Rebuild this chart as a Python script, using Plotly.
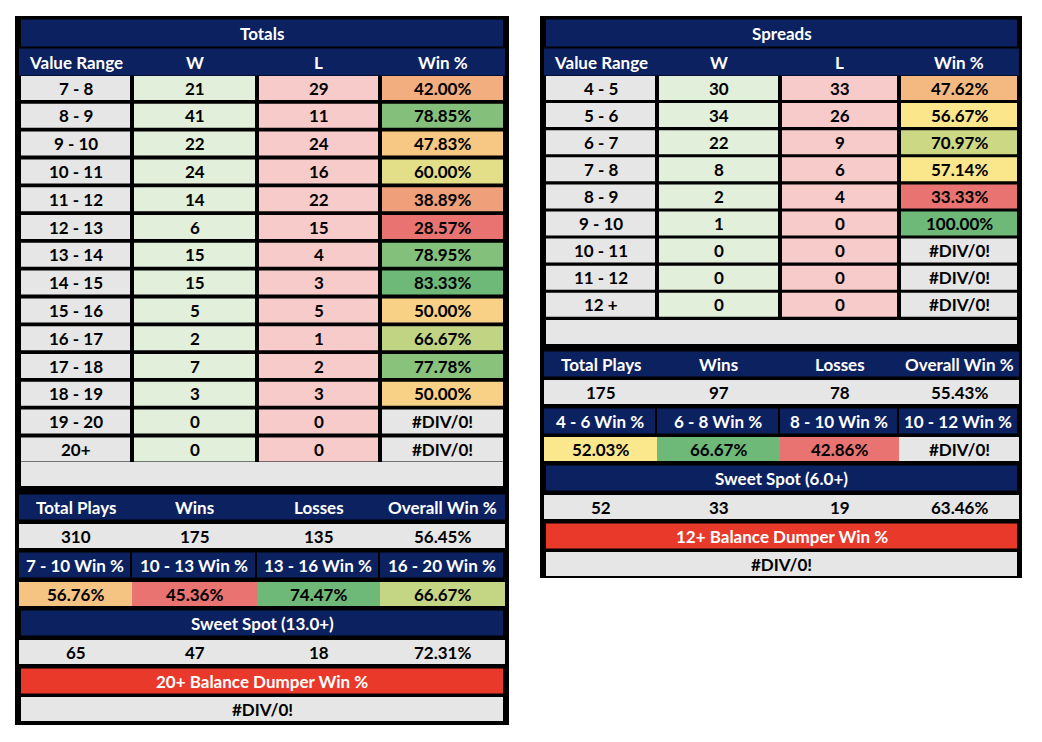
import plotly.graph_objects as go

# ---- data ----
tot_ranges = ["7 - 8", "8 - 9", "9 - 10", "10 - 11", "11 - 12", "12 - 13", "13 - 14",
              "14 - 15", "15 - 16", "16 - 17", "17 - 18", "18 - 19", "19 - 20", "20+"]
tot_w = [21, 41, 22, 24, 14, 6, 15, 15, 5, 2, 7, 3, 0, 0]
tot_l = [29, 11, 24, 16, 22, 15, 4, 3, 5, 1, 2, 3, 0, 0]
tot_summary = [310, 175, 135, "56.45%"]
tot_band_labels = ["7 - 10 Win %", "10 - 13 Win %", "13 - 16 Win %", "16 - 20 Win %"]
tot_band_pct = [56.76, 45.36, 74.47, 66.67]
tot_sweet = [65, 47, 18, "72.31%"]

spr_ranges = ["4 - 5", "5 - 6", "6 - 7", "7 - 8", "8 - 9", "9 - 10", "10 - 11", "11 - 12", "12 +"]
spr_w = [30, 34, 22, 8, 2, 1, 0, 0, 0]
spr_l = [33, 26, 9, 6, 4, 0, 0, 0, 0]
spr_summary = [175, 97, 78, "55.43%"]
spr_band_labels = ["4 - 6 Win %", "6 - 8 Win %", "8 - 10 Win %", "10 - 12 Win %"]
spr_band_pct = [52.03, 66.67, 42.86, None]
spr_sweet = [52, 33, 19, "63.46%"]

NAVY = "#0c2160"
GREEN = "#e2efda"
PINK = "#f8cbcb"
GRAY = "#e7e6e6"
RED = "#e8392a"
FONT = "Lato"


def pct(w, l):
    return None if w + l == 0 else 100 * w / (w + l)


def scale(vals):
    nums = sorted(v for v in vals if v is not None)
    lo, hi = nums[0], nums[-1]
    n = len(nums)
    mid = nums[n // 2] if n % 2 else (nums[n // 2 - 1] + nums[n // 2]) / 2
    r, y, g = (232, 115, 112), (252, 232, 140), (110, 185, 120)

    def mix(a, b, t):
        return "rgb(%d,%d,%d)" % tuple(a[i] + (b[i] - a[i]) * t for i in range(3))

    def f(v):
        if v is None:
            return GRAY
        if v <= mid:
            return mix(r, y, (v - lo) / (mid - lo) if mid > lo else 1)
        return mix(y, g, (v - mid) / (hi - mid) if hi > mid else 1)
    return f


def fmt(v):
    return "#DIV/0!" if v is None else "%.2f%%" % v


shapes, annots = [], []


def cell(x0, x1, yc, h, fill, text, color="black", size=17):
    shapes.append(dict(type="rect", x0=x0, x1=x1, y0=yc - h / 2, y1=yc + h / 2,
                       fillcolor=fill, line_width=0, layer="below"))
    if text != "":
        annots.append(dict(x=(x0 + x1) / 2, y=yc, text="<b>%s</b>" % text, showarrow=False,
                           font=dict(family=FONT, size=size, color=color)))


def panel(px0, px1, py0, py1, cols, title, ranges, w, l, rows_y, rest_y, summary,
          band_labels, band_pct, sweet_title, sweet, dumper_title):
    shapes.append(dict(type="rect", x0=px0, x1=px1, y0=py0, y1=py1, fillcolor="black",
                       line_width=0, layer="below"))
    full = (cols[0][0], cols[-1][1])
    h = 24
    cell(*full, rows_y[0], 27, NAVY, title, "white")
    for (a, b), t in zip(cols, ["Value Range", "W", "L", "Win %"]):
        cell(a - 2, b + 2, rows_y[1], 27, NAVY, t, "white")
    p = [pct(a, b) for a, b in zip(w, l)]
    col = scale(p)
    for i in range(len(ranges)):
        yc = rows_y[2 + i]
        cell(*cols[0], yc, h, GRAY, ranges[i])
        cell(*cols[1], yc, h, GREEN, w[i])
        cell(*cols[2], yc, h, PINK, l[i])
        cell(*cols[3], yc, h, col(p[i]), fmt(p[i]))
    y = rest_y
    cell(*full, y[0], h, GRAY, "")
    for (a, b), t in zip(cols, ["Total Plays", "Wins", "Losses", "Overall Win %"]):
        cell(a - 2, b + 2, y[1], 25, NAVY, t, "white")
    for (a, b), t in zip(cols, summary):
        cell(a - 2, b + 2, y[2], h, GRAY, t)
    bcol = scale(band_pct)
    for (a, b), t in zip(cols, band_labels):
        cell(a - 2, b, y[3], 25, NAVY, t, "white")
    for (a, b), v in zip(cols, band_pct):
        cell(a - 2, b + 2, y[4], h, bcol(v), fmt(v))
    cell(*full, y[5], 25, NAVY, sweet_title, "white")
    for (a, b), t in zip(cols, sweet):
        cell(a - 2, b + 2, y[6], h, GRAY, t)
    cell(*full, y[7], 25, RED, dumper_title, "white")
    cell(*full, y[8], h, GRAY, "#DIV/0!")


lcols = [(21, 130), (134, 255), (259, 378), (382, 503)]
lrows = [33, 62] + [88 + i * 27.8 for i in range(14)]
lrest = [474, 507, 536, 565, 594, 623, 652, 681, 709]
panel(15, 509, 16, 725, lcols, "Totals", tot_ranges, tot_w, tot_l, lrows, lrest,
      tot_summary, tot_band_labels, tot_band_pct, "Sweet Spot (13.0+)", tot_sweet,
      "20+ Balance Dumper Win %")

rcols = [(546, 655), (659, 778), (782, 897), (901, 1017)]
rrows = [33, 62] + [88 + i * 27.1 for i in range(9)]
rrest = [332, 364, 392, 421, 449, 478, 507, 536, 564]
panel(540, 1022, 16, 578, rcols, "Spreads", spr_ranges, spr_w, spr_l, rrows, rrest,
      spr_summary, spr_band_labels, spr_band_pct, "Sweet Spot (6.0+)", spr_sweet,
      "12+ Balance Dumper Win %")

fig = go.Figure()
fig.update_layout(
    width=1042, height=742, margin=dict(l=0, r=0, t=0, b=0),
    plot_bgcolor="white", paper_bgcolor="white", showlegend=False,
    xaxis=dict(range=[8, 1050], visible=False, fixedrange=True),
    yaxis=dict(range=[750, 8], visible=False, fixedrange=True),
    shapes=shapes, annotations=annots,
)
fig.write_html("out.html")
